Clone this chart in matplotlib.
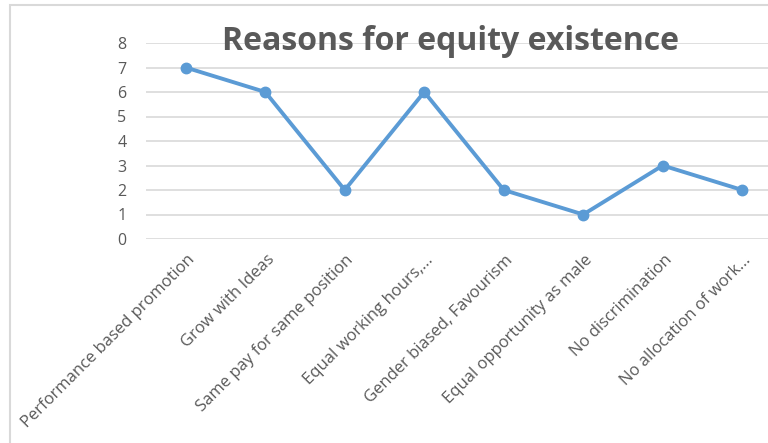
import matplotlib
matplotlib.use("Agg")
import matplotlib.pyplot as plt
from matplotlib.patches import Rectangle
from matplotlib.transforms import ScaledTranslation

categories = ["Performance based promotion", "Grow with Ideas", "Same pay for same position",
              "Equal working hours,...", "Gender biased, Favourism", "Equal opportunity as male",
              "No discrimination", "No allocation of work..."]
values = [7, 6, 2, 6, 2, 1, 3, 2]
yticks = [0, 1, 2, 3, 4, 5, 6, 7, 8]

plt.rcParams['font.family'] = ['Open Sans', 'DejaVu Sans']
fig = plt.figure(figsize=(7.68, 4.43), dpi=100)

# outer chart border (cropped on right/bottom)
fig.patches.append(Rectangle((10/768, -0.1), 1.2, 1 - 5/443 + 0.1, transform=fig.transFigure,
                             fill=False, edgecolor='#d9d9d9', linewidth=1.5))

ax = fig.add_axes([146/768, (443-239)/443, (782-146)/768, 196/443])
x = list(range(len(categories)))
ax.plot(x, values, color='#5b9bd5', linewidth=2.8, marker='o', markersize=7.5, zorder=3,
        solid_capstyle='round')
ax.set_xlim(-0.5, len(categories) - 0.5)
ax.set_ylim(0, 8)
ax.set_yticks(yticks)
ax.set_yticklabels([str(v) for v in yticks], fontsize=11.5, color='#595959')
ax.grid(axis='y', color='#d9d9d9', linewidth=1.2)
ax.set_axisbelow(True)
for s in ax.spines.values():
    s.set_visible(False)
ax.tick_params(axis='both', length=0)
ax.tick_params(axis='y', pad=14)
ax.set_xticks(x)
ax.set_xticklabels(categories, rotation=45, ha='right', va='top', rotation_mode='anchor',
                   fontsize=12, color='#595959')
offset = ScaledTranslation(1/100, -8/100, fig.dpi_scale_trans)
for lab in ax.get_xticklabels():
    lab.set_transform(lab.get_transform() + offset)

fig.text(451/768, 1 - 42/443, "Reasons for equity existence", ha='center', va='center',
         fontsize=23, fontweight='bold', color='#595959')

fig.savefig("out.png", dpi=100)
